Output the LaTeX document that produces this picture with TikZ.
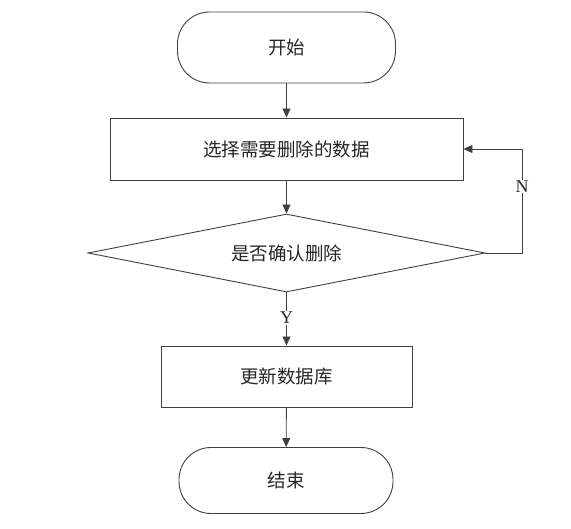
\documentclass[tikz,border=0pt]{standalone}
\usepackage{fontspec}
\setmainfont{Liberation Serif}
\newfontfamily\cjk{Noto Sans CJK SC}
\usetikzlibrary{shapes.geometric,arrows.meta}
\definecolor{linegray}{HTML}{404040}

\begin{document}
\begin{tikzpicture}[x=1pt,y=-1pt,
    line width=0.9pt, draw=linegray,
    every node/.style={font=\cjk\fontsize{18.5}{20}\selectfont, text=black!85},
    terminal/.style={draw=linegray, rectangle, rounded corners=32pt, inner sep=0pt},
    procbox/.style={draw=linegray, rectangle, inner sep=0pt},
    decision/.style={draw=linegray, diamond, aspect=5.1, inner sep=0pt},
    flow/.style={draw=linegray, -{Triangle[length=9pt,width=8pt]}},
    branch/.style={fill=white, font=\rmfamily\fontsize{18}{20}\selectfont, inner sep=1pt}]
      \useasboundingbox (0,0) rectangle (571,529);
      % nodes
      \node[terminal, minimum width=218pt, minimum height=71pt] (start) at (286.5, 47.5) {开始};
      \node[procbox, minimum width=353pt, minimum height=62pt] (select) at (286.5, 149) {选择需要删除的数据};
      \node[decision, minimum width=397pt, minimum height=78pt] (confirm) at (286.5, 253) {是否确认删除};
      \node[procbox, minimum width=251pt, minimum height=61pt] (update) at (286.5, 376.5) {更新数据库};
      \node[terminal, minimum width=214pt, minimum height=66pt] (stop) at (286, 480.5) {结束};
      % connectors
      \draw[flow] (start) -- (select);
      \draw[flow] (select) -- (confirm);
      \draw[flow] (confirm) -- node[branch, pos=0.48] (yes) {Y} (update);
      \draw[flow] (update) -- (stop);
      \coordinate (loop) at (522, 253);
      \draw[flow] (confirm.east) -- (loop) |- node[branch, pos=0.32] (no) {N} (select.east);
    \end{tikzpicture}
\end{document}
